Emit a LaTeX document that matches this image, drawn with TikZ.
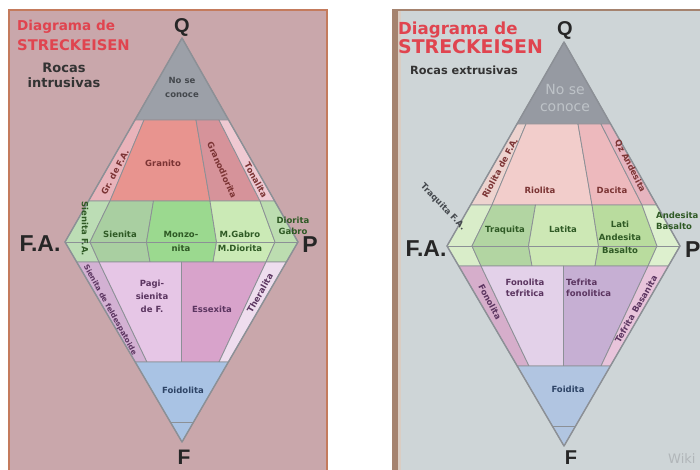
\documentclass[tikz,border=0pt]{standalone}
\usepackage{fontspec}
\setmainfont{DejaVu Sans}
\newfontfamily\apexfont{Liberation Sans}
\usepackage{xcolor}

% sheets and grid lines
\definecolor{sheetL}{HTML}{C9A7AB}
\definecolor{rimL}{HTML}{C47B5D}
\definecolor{sheetR}{HTML}{CED5D7}
\definecolor{rimR}{HTML}{A5836F}
\definecolor{seamR}{HTML}{DACDC3}
\definecolor{grid}{HTML}{8C9096}
\definecolor{titlered}{HTML}{E0444F}
\definecolor{txtGray}{HTML}{44484D}
\definecolor{txtRed}{HTML}{7B3434}
\definecolor{txtGreen}{HTML}{2F5A25}
\definecolor{txtPurple}{HTML}{5B3560}
\definecolor{txtBlue}{HTML}{2E4466}
\definecolor{mist}{HTML}{BEC3C8}
% fields of the intrusive sheet
\definecolor{cQL}{HTML}{9CA0A8}
\definecolor{cQAL}{HTML}{E9B3BA}
\definecolor{cQML}{HTML}{E8948F}
\definecolor{cQBL}{HTML}{D6939A}
\definecolor{cQPL}{HTML}{EFC9D2}
\definecolor{cGAL}{HTML}{BCDDB5}
\definecolor{cGSL}{HTML}{A9CFA1}
\definecolor{cGML}{HTML}{9BD98F}
\definecolor{cGBL}{HTML}{CBEAB6}
\definecolor{cGPL}{HTML}{BCDDB0}
\definecolor{cFAL}{HTML}{D3B1D3}
\definecolor{cFSL}{HTML}{E6C6E6}
\definecolor{cFBL}{HTML}{D8A3CB}
\definecolor{cFPL}{HTML}{EEDDEE}
\definecolor{cFL}{HTML}{A9C3E4}
% fields of the extrusive sheet
\definecolor{cQR}{HTML}{969AA2}
\definecolor{cQAR}{HTML}{EDD3CF}
\definecolor{cQMR}{HTML}{F2CDCB}
\definecolor{cQBR}{HTML}{EDB9BD}
\definecolor{cQPR}{HTML}{E6B4BF}
\definecolor{cGAR}{HTML}{D9EDC9}
\definecolor{cGSR}{HTML}{B2D5A2}
\definecolor{cGMR}{HTML}{CDE8B5}
\definecolor{cGBR}{HTML}{B9DC9E}
\definecolor{cGPR}{HTML}{DDF0CE}
\definecolor{cFAR}{HTML}{D6AECB}
\definecolor{cFSR}{HTML}{E3D1E9}
\definecolor{cFBR}{HTML}{C6AFD3}
\definecolor{cFPR}{HTML}{E8C4DB}
\definecolor{cFR}{HTML}{B1C5E1}

\tikzset{
    zone/.style={draw=grid, line width=0.8pt, line join=round},
    rim/.style={draw=grid, line width=1.4pt, line join=round},
    lbl/.style={font=\bfseries\fontsize{8.5}{11}\selectfont, inner sep=0pt, align=center},
    apex/.style={font=\apexfont\bfseries\fontsize{23}{23}\selectfont, inner sep=0pt, text=black!85},
    title/.style={font=\bfseries, text=titlered, inner sep=0pt, anchor=base west},
}

\begin{document}
\begin{tikzpicture}[x=1pt, y=-1pt]
    \useasboundingbox (0,0) rectangle (700,470);
    \fill[white] (0,0) rectangle (700,470);

    % the two sheets
    \fill[sheetL] (9,10) rectangle (327,470);
    \draw[rimL, line width=2pt] (9,470) -- (9,10) -- (327,10) -- (327,470);
    \fill[rimR] (392,9) rectangle (700,470);
    \fill[seamR] (398,11) rectangle (401,470);
    \fill[sheetR] (401,11) rectangle (700,470);

    % QAPF double triangle, same grid on both sheets
    \foreach \dx/\dy/\s in {0/0/L, 382/4/R} {
    \begin{scope}[shift={(\dx,\dy)}]
        \foreach \n/\x/\y in {Q/182/38, A/65/242, P/298/242, F/182/442,
                t1/135/120, t2/144/120, t3/196/120, t4/219/120, t5/228.6/120,
                m1/88.5/201, m2/110/201, m3/153.5/201, m4/210/201, m5/260/201, m6/274.7/201,
                c2/90/242, c3/146.5/242, c4/216.5/242, c5/275/242,
                b1/76.7/262, b2/99/262, b3/150/262, b4/181.5/262, b5/213/262, b6/266/262, b7/286.4/262,
                d1/135.2/362, d2/147/362, d3/181.5/362, d4/219/362, d5/228.4/362,
                e1/170.3/422, e2/193.6/422}
            \coordinate (\n) at (\x,\y);
        % Q > 60
        \filldraw[zone, fill=cQ\s] (Q) -- (t5) -- (t1) -- cycle;
        % Q 20 to 60
        \filldraw[zone, fill=cQA\s] (t1) -- (t2) -- (m2) -- (m1) -- cycle;
        \filldraw[zone, fill=cQM\s] (t2) -- (t3) -- (m4) -- (m2) -- cycle;
        \filldraw[zone, fill=cQB\s] (t3) -- (t4) -- (m5) -- (m4) -- cycle;
        \filldraw[zone, fill=cQP\s] (t4) -- (t5) -- (m6) -- (m5) -- cycle;
        % Q < 20 and F < 10
        \filldraw[zone, fill=cGA\s] (m1) -- (m2) -- (c2) -- (b2) -- (b1) -- (A) -- cycle;
        \filldraw[zone, fill=cGS\s] (m2) -- (m3) -- (c3) -- (b3) -- (b2) -- (c2) -- cycle;
        \filldraw[zone, fill=cGM\s] (m3) -- (m4) -- (c4) -- (b5) -- (b3) -- (c3) -- cycle;
        \filldraw[zone, fill=cGB\s] (m4) -- (m5) -- (c5) -- (b6) -- (b5) -- (c4) -- cycle;
        \filldraw[zone, fill=cGP\s] (m5) -- (m6) -- (P) -- (b7) -- (b6) -- (c5) -- cycle;
        % F 10 to 60
        \filldraw[zone, fill=cFA\s] (b1) -- (b2) -- (d2) -- (d1) -- cycle;
        \filldraw[zone, fill=cFS\s] (b2) -- (b4) -- (d3) -- (d2) -- cycle;
        \filldraw[zone, fill=cFB\s] (b4) -- (b6) -- (d4) -- (d3) -- cycle;
        \filldraw[zone, fill=cFP\s] (b6) -- (b7) -- (d5) -- (d4) -- cycle;
        % F > 60
        \filldraw[zone, fill=cF\s] (d1) -- (d5) -- (F) -- cycle;
        \draw[zone] (A) -- (P) (e1) -- (e2);
        \draw[rim] (Q) -- (P) -- (F) -- (A) -- cycle;
    \end{scope}
    }

    % intrusive sheet: titles and corners
    \node[title, font=\bfseries\fontsize{13.6}{14}\selectfont] (diagL) at (17,31) {Diagrama de};
    \node[title, font=\bfseries\fontsize{14.7}{15}\selectfont] (streckL) at (17,51) {STRECKEISEN};
    \node[font=\bfseries\fontsize{13}{15}\selectfont, text=black!80, align=center, anchor=north, inner sep=0pt]
        (rocasL) at (64,63) {Rocas\\intrusivas};
    \node[apex, font=\apexfont\bfseries\fontsize{20}{20}\selectfont] (qL) at (182,27) {Q};
    \node[apex] (faL) at (40,244) {F.A.};
    \node[apex] (pL) at (310,245) {P};
    \node[apex, anchor=north, font=\apexfont\bfseries\fontsize{21}{21}\selectfont] (fL) at (184,450) {F};

    \foreach \x/\y/\c/\t/\n in {182/87/txtGray/{No se\\[3pt]conoce}/noseL,
            163/163/txtRed/Granito/granito,
            120/234/txtGreen/Sienita/sienita,
            181/241/txtGreen/{Monzo-\\[3pt]nita}/monzonita,
            240/241/txtGreen/{M.Gabro\\[3pt]M.Diorita}/mgabro,
            293/226/txtGreen/{Diorita\\Gabro}/dioritagabro,
            152/296/txtPurple/{Pagi-\\[2pt]sienita\\[2pt]de F.}/pagisienita,
            212/309/txtPurple/Essexita/essexita,
            183/390/txtBlue/Foidolita/foidolita}
        \node[lbl, text=\c] (\n) at (\x,\y) {\t};
    \foreach \x/\y/\a/\c/\t/\n in {115/172/62/txtRed/{Gr. de F.A.}/grfa,
            222/170/-66/txtRed/Granodiorita/granodiorita,
            256/180/-61/txtRed/Tonalita/tonalita,
            85/229/-90/txtGreen/{Sienita F.A.}/sienitafa,
            260/293/60/txtPurple/Theralita/theralita}
        \node[lbl, text=\c, rotate=\a] (\n) at (\x,\y) {\t};
    \node[lbl, font=\bfseries\fontsize{7.4}{9}\selectfont, text=txtPurple, rotate=-61]
        (sienitafeld) at (110,310) {Sienita de feldespatoide};

    % extrusive sheet: titles and corners
    \node[title, font=\bfseries\fontsize{16.6}{17}\selectfont] (diagR) at (398,35) {Diagrama de};
    \node[title, font=\bfseries\fontsize{18.9}{19}\selectfont] (streckR) at (398,54) {STRECKEISEN};
    \node[font=\bfseries\fontsize{11.3}{12}\selectfont, text=black!80, anchor=base west, inner sep=0pt]
        (rocasR) at (410,75) {Rocas extrusivas};
    \node[apex, font=\apexfont\bfseries\fontsize{20}{20}\selectfont] (qR) at (565,30) {Q};
    \node[apex] (faR) at (426,249) {F.A.};
    \node[apex, anchor=west] (pR) at (685,250) {P};
    \node[apex, anchor=north, font=\apexfont\bfseries\fontsize{20}{20}\selectfont] (fR) at (571,451) {F};
    \node[font=\fontsize{14}{17}\selectfont, text=mist, align=center, inner sep=0pt]
        (noseR) at (565,98) {No se\\conoce};

    \foreach \x/\y/\c/\t/\n in {540/190/txtRed/Riolita/riolita,
            612/190/txtRed/Dacita/dacita,
            505/230/txtGreen/Traquita/traquita,
            563/229/txtGreen/Latita/latita,
            620/237/txtGreen/{Lati\\[2pt]Andesita\\[2pt]Basalto}/latiandesita,
            525/288/txtPurple/{Fonolita\\tefritica}/fonolitatef,
            568/389/txtBlue/Foidita/foidita}
        \node[lbl, text=\c] (\n) at (\x,\y) {\t};
    \node[lbl, text=txtGreen, align=left, anchor=west] (andesitabasalto) at (656,221) {Andesita\\Basalto};
    \node[lbl, text=txtPurple, align=left, anchor=west] (tefritafon) at (566,288) {Tefrita\\fonolitica};
    \foreach \x/\y/\a/\c/\t/\n in {500/168/62/txtRed/{Riolita de F.A.}/riolitafa,
            630/166/-63/txtRed/{Qz Andesita}/qzandesita,
            443/207/-46/txtGray/{Traquita F.A.}/traquitafa,
            490/302/-62/txtPurple/Fonolita/fonolita,
            636/309/60/txtPurple/{Tefrita Basanita}/tefritabasanita}
        \node[lbl, text=\c, rotate=\a] (\n) at (\x,\y) {\t};

    \node[font=\fontsize{13}{13}\selectfont, text=mist!80!gray, anchor=north west, inner sep=0pt]
        (wiki) at (668,453) {Wiki};
\end{tikzpicture}
\end{document}
